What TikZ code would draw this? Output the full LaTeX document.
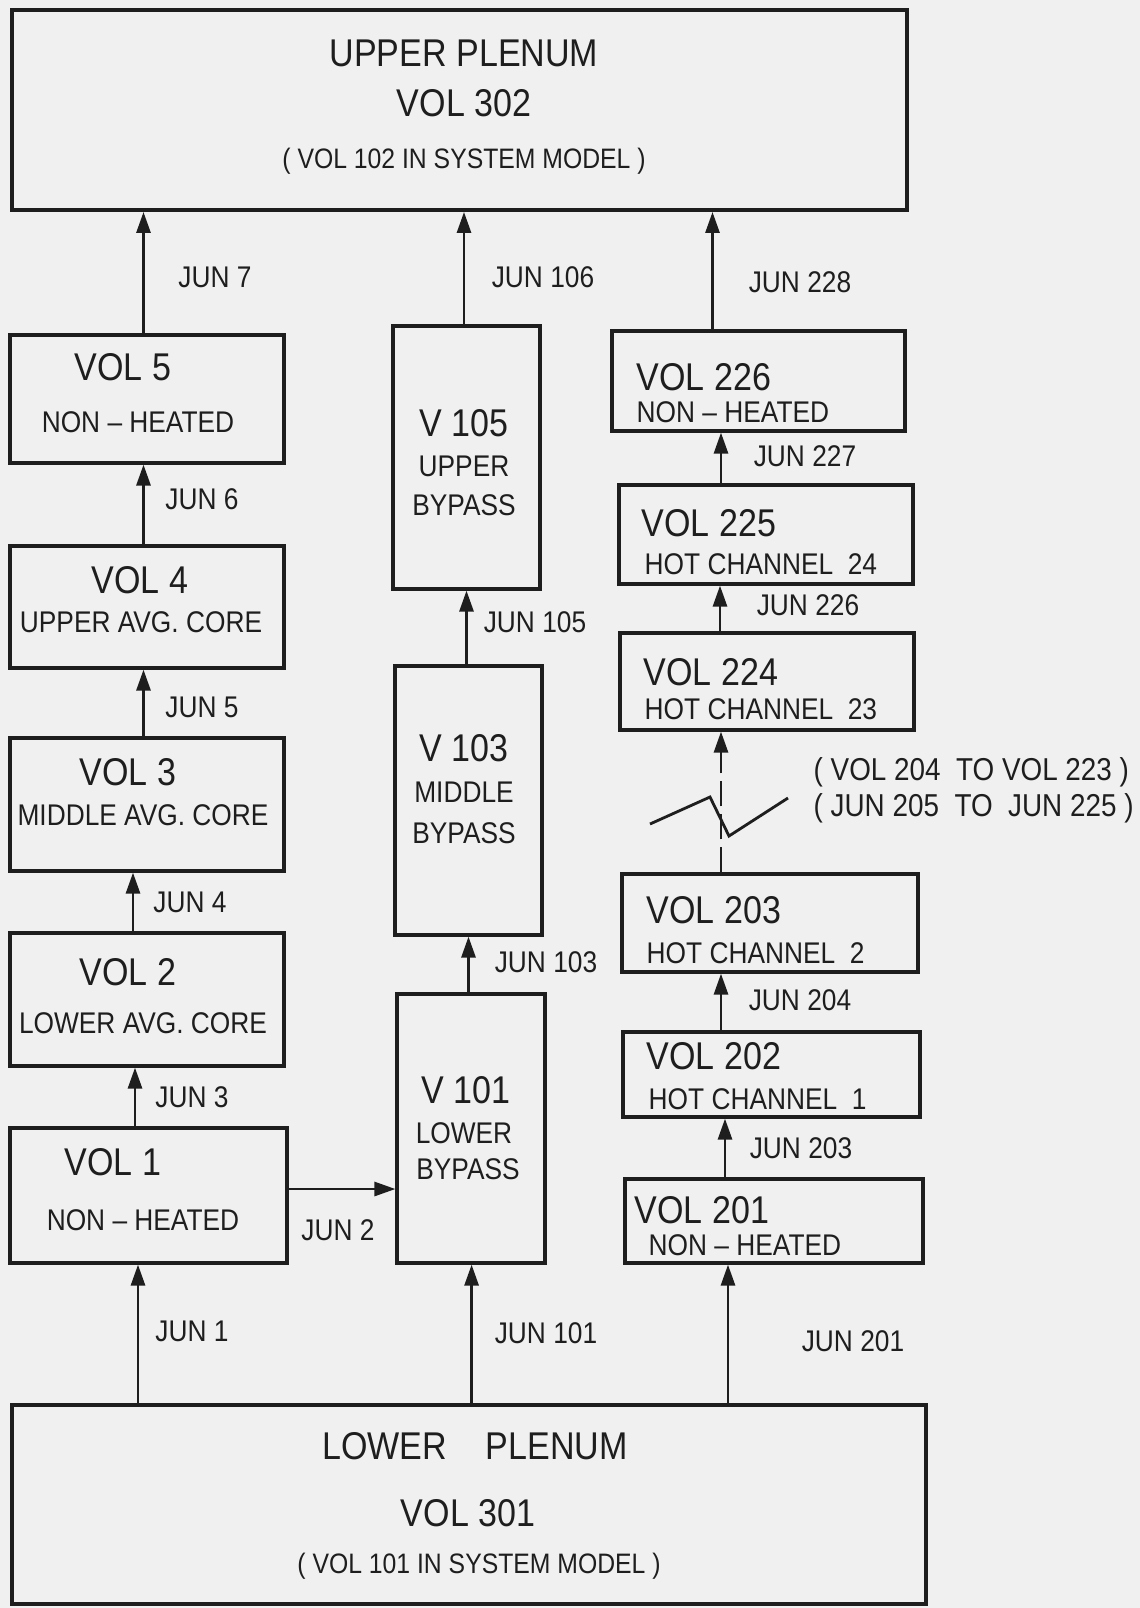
\documentclass[tikz,border=0pt]{standalone}
\usepackage{fontspec}
\setmainfont{Liberation Sans}[FakeStretch=0.88]
\usetikzlibrary{arrows.meta, fit}
\definecolor{scanbg}{RGB}{240,240,240}
\definecolor{ink}{RGB}{30,30,30}
\tikzset{
  volbox/.style={draw=ink, line width=0.9pt, inner sep=0pt},
  plenum/.style={volbox, line width=1.1pt},
  flow/.style={draw=ink, line width=0.8pt, -{Triangle[length=0.21cm, width=0.14cm]}},
  bigtxt/.style={text=ink, font=\fontsize{11}{13}\selectfont, inner sep=0pt},
  subtxt/.style={text=ink, font=\fontsize{8.5}{10}\selectfont, inner sep=0pt},
  juntxt/.style={text=ink, font=\fontsize{8.5}{10}\selectfont, inner sep=0pt},
  notetxt/.style={text=ink, font=\fontsize{8}{10}\selectfont, inner sep=0pt},
  rangetxt/.style={text=ink, font=\fontsize{9}{11}\selectfont, inner sep=0pt, anchor=west},
}
\begin{document}
\begin{tikzpicture}[x=0.01cm, y=-0.01cm]
 \useasboundingbox (0,0) rectangle (1140,1608);
 \fill[scanbg] (0,0) rectangle (1140,1608);

 % plena
 \node[plenum, fit={(12,10) (907,210)}] (up) {};
 \node[bigtxt] (upa) at (464,53) {UPPER PLENUM};
 \node[bigtxt] (upb) at (464,103) {VOL 302};
 \node[notetxt] (upc) at (464,161) {( VOL 102 IN SYSTEM MODEL )};
 \node[plenum, fit={(12,1405) (926,1604)}] (lp) {};
 \node[bigtxt] (lpa) at (475,1446) {LOWER\quad PLENUM};
 \node[bigtxt] (lpb) at (468,1513) {VOL 301};
 \node[notetxt] (lpc) at (479,1566) {( VOL 101 IN SYSTEM MODEL )};

 % average core
 \node[volbox, fit={(10,335) (284,463)}] (vol5) {};
 \node[bigtxt] (v5a) at (123,367) {VOL 5};
 \node[subtxt] (v5b) at (138,422) {NON -- HEATED};
 \node[volbox, fit={(10,546) (284,668)}] (vol4) {};
 \node[bigtxt] (v4a) at (140,580) {VOL 4};
 \node[subtxt] (v4b) at (141,622) {UPPER AVG. CORE};
 \node[volbox, fit={(10,738) (284,871)}] (vol3) {};
 \node[bigtxt] (v3a) at (128,772) {VOL 3};
 \node[subtxt] (v3b) at (143,815) {MIDDLE AVG. CORE};
 \node[volbox, fit={(10,933) (284,1066)}] (vol2) {};
 \node[bigtxt] (v2a) at (128,972) {VOL 2};
 \node[subtxt] (v2b) at (143,1023) {LOWER AVG. CORE};
 \node[volbox, fit={(10,1128) (287,1263)}] (vol1) {};
 \node[bigtxt] (v1a) at (113,1162) {VOL 1};
 \node[subtxt] (v1b) at (143,1220) {NON -- HEATED};

 % bypass
 \node[volbox, fit={(393,326) (540,589)}] (v105) {};
 \node[bigtxt] (b5a) at (464,423) {V 105};
 \node[subtxt] (b5b) at (464,466) {UPPER};
 \node[subtxt] (b5c) at (464,505) {BYPASS};
 \node[volbox, fit={(395,666) (542,935)}] (v103) {};
 \node[bigtxt] (b3a) at (464,748) {V 103};
 \node[subtxt] (b3b) at (464,792) {MIDDLE};
 \node[subtxt] (b3c) at (464,833) {BYPASS};
 \node[volbox, fit={(397,994) (545,1263)}] (v101) {};
 \node[bigtxt] (b1a) at (466,1090) {V 101};
 \node[subtxt] (b1b) at (464,1133) {LOWER};
 \node[subtxt] (b1c) at (468,1169) {BYPASS};

 % hot channel
 \node[volbox, fit={(612,331) (905,431)}] (vol226) {};
 \node[bigtxt, anchor=west] (h26a) at (636,377) {VOL 226};
 \node[subtxt, anchor=west] (h26b) at (636,412) {NON -- HEATED};
 \node[volbox, fit={(619,485) (913,584)}] (vol225) {};
 \node[bigtxt, anchor=west] (h25a) at (641,523) {VOL 225};
 \node[subtxt, anchor=west] (h25b) at (644,564) {HOT CHANNEL\ \ 24};
 \node[volbox, fit={(620,633) (914,730)}] (vol224) {};
 \node[bigtxt, anchor=west] (h24a) at (643,672) {VOL 224};
 \node[subtxt, anchor=west] (h24b) at (644,709) {HOT CHANNEL\ \ 23};
 \node[volbox, fit={(622,874) (918,972)}] (vol203) {};
 \node[bigtxt, anchor=west] (h03a) at (646,910) {VOL 203};
 \node[subtxt, anchor=west] (h03b) at (646,953) {HOT CHANNEL\ \ 2};
 \node[volbox, fit={(623,1032) (920,1117)}] (vol202) {};
 \node[bigtxt, anchor=west] (h02a) at (646,1056) {VOL 202};
 \node[subtxt, anchor=west] (h02b) at (648,1099) {HOT CHANNEL\ \ 1};
 \node[volbox, fit={(625,1179) (923,1263)}] (vol201) {};
 \node[bigtxt, anchor=west] (h01a) at (634,1210) {VOL 201};
 \node[subtxt, anchor=west] (h01b) at (648,1245) {NON -- HEATED};

 % junctions
 \draw[flow] (lp.north -| 138,0) -- (vol1.south -| 138,0);
 \draw[flow] (vol1.north -| 135,0) -- (vol2.south -| 135,0);
 \draw[flow] (vol2.north -| 133,0) -- (vol3.south -| 133,0);
 \draw[flow] (vol3.north -| 143.5,0) -- (vol4.south -| 143.5,0);
 \draw[flow] (vol4.north -| 143.5,0) -- (vol5.south -| 143.5,0);
 \draw[flow] (vol5.north -| 143.5,0) -- (up.south -| 143.5,0);
 \draw[flow] (vol1.east |- 0,1189) -- (v101.west |- 0,1189);
 \draw[flow] (lp.north -| 471.6,0) -- (v101.south -| 471.6,0);
 \draw[flow] (v101.north -| 468.5,0) -- (v103.south -| 468.5,0);
 \draw[flow] (v103.north -| 466.5,0) -- (v105.south -| 466.5,0);
 \draw[flow] (v105.north -| 464,0) -- (up.south -| 464,0);
 \draw[flow] (lp.north -| 728,0) -- (vol201.south -| 728,0);
 \draw[flow] (vol201.north -| 725,0) -- (vol202.south -| 725,0);
 \draw[flow] (vol202.north -| 721,0) -- (vol203.south -| 721,0);
 \draw[flow, dash pattern=on 0.25cm off 0.08cm] (vol203.north -| 721,0) -- (vol224.south -| 721,0);
 \draw[flow] (vol224.north -| 720,0) -- (vol225.south -| 720,0);
 \draw[flow] (vol225.north -| 721,0) -- (vol226.south -| 721,0);
 \draw[flow] (vol226.north -| 712.5,0) -- (up.south -| 712.5,0);
 \draw[ink, line width=0.8pt] (650,824) -- (710,797) -- (729,836) -- (788,798);

 \node[juntxt] (j1) at (192,1331) {JUN 1};
 \node[juntxt] (j2) at (338,1230) {JUN 2};
 \node[juntxt] (j3) at (192,1097) {JUN 3};
 \node[juntxt] (j4) at (190,902) {JUN 4};
 \node[juntxt] (j5) at (202,707) {JUN 5};
 \node[juntxt] (j6) at (202,499) {JUN 6};
 \node[juntxt] (j7) at (215,277) {JUN 7};
 \node[juntxt] (j101) at (546,1333) {JUN 101};
 \node[juntxt] (j103) at (546,962) {JUN 103};
 \node[juntxt] (j105) at (535,622) {JUN 105};
 \node[juntxt] (j106) at (543,277) {JUN 106};
 \node[juntxt] (j201) at (853,1341) {JUN 201};
 \node[juntxt] (j203) at (801,1148) {JUN 203};
 \node[juntxt] (j204) at (800,1000) {JUN 204};
 \node[juntxt] (j226) at (808,605) {JUN 226};
 \node[juntxt] (j227) at (805,456) {JUN 227};
 \node[juntxt] (j228) at (800,282) {JUN 228};
 \node[rangetxt] (rv) at (813,772) {( VOL 204\ \ TO VOL 223 )};
 \node[rangetxt] (rj) at (813,808) {( JUN 205\ \ TO\ \ JUN 225 )};
\end{tikzpicture}
\end{document}
